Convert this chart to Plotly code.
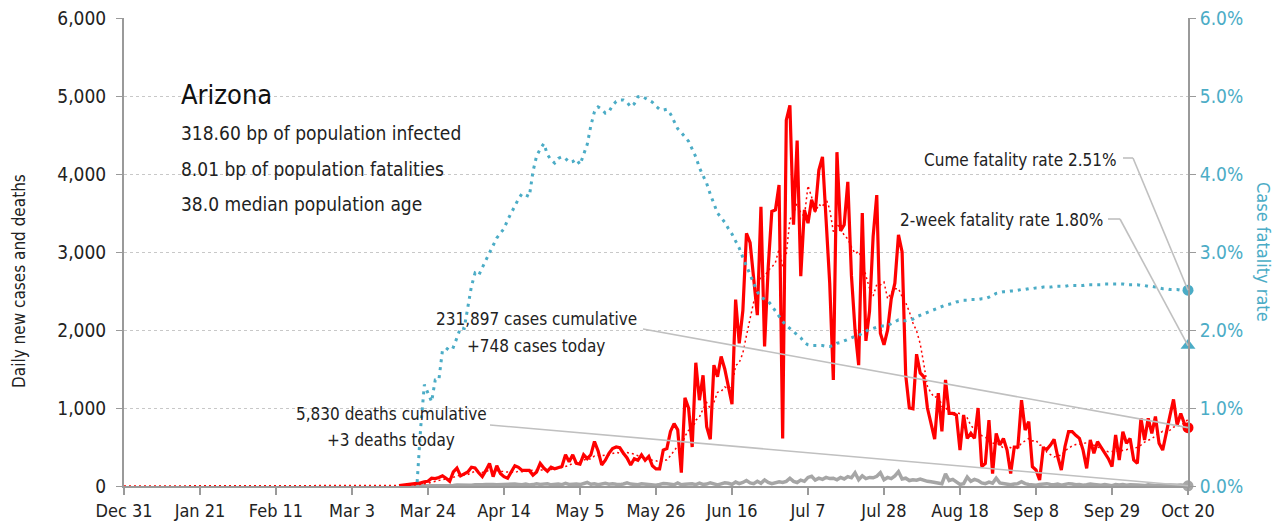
import pandas as pd
import plotly.graph_objects as go

# ---------------- data ----------------
x_start = "2019-12-31"
x_end = "2020-10-20"
tick_dates = ["2019-12-31", "2020-01-21", "2020-02-11", "2020-03-03", "2020-03-24",
              "2020-04-14", "2020-05-05", "2020-05-26", "2020-06-16", "2020-07-07",
              "2020-07-28", "2020-08-18", "2020-09-08", "2020-09-29", "2020-10-20"]
tick_labels = ["Dec 31", "Jan 21", "Feb 11", "Mar 3", "Mar 24", "Apr 14", "May 5", "May 26",
               "Jun 16", "Jul 7", "Jul 28", "Aug 18", "Sep 8", "Sep 29", "Oct 20"]

series_start = "2020-03-16"   # daily values from here to Oct 20
cases = [5, 10, 15, 20, 25, 35, 40, 55,
         60, 100, 95, 110, 130, 100, 60, 180, 230, 130, 150, 180, 240, 230, 170, 120, 200, 290, 120, 260, 160,
         120, 100, 190, 260, 240, 200, 200, 200, 140, 180, 290, 230, 190, 240, 220, 240, 250, 400, 310, 400,
         290, 280, 400, 350, 400, 570, 450, 270, 330, 420, 480, 500, 490, 420, 360, 270, 350, 330, 400, 330,
         380, 260,
         220, 220, 460, 480, 700, 800, 720, 170, 1130, 1000, 500, 1580, 1100, 1420, 760, 600, 1550, 1400, 1660, 1500, 1250,
         1050, 2390, 1830, 2250, 3240, 3120, 2640, 2190, 3580, 1790, 2800, 3520, 3540, 3860, 610, 4690, 4880, 3350, 4430, 2690, 3540,
         3370, 3670, 3520, 4050, 4220, 3410, 2600, 1360, 4280, 3270, 3350, 3900, 2700, 2000, 1550, 3500, 1860, 2240, 3200, 3730, 1960,
         1810, 2000, 2400, 2600, 3220, 3000, 1420, 1000, 990, 1690, 1450, 1400, 1000, 810, 600, 1190, 700, 1360, 930, 930, 910,
         460, 910, 610, 675, 610, 1000, 250, 290, 846, 160, 675, 525, 610, 460, 160, 500, 500, 1100, 718, 825, 248,
         205, 77, 483, 470, 525, 598, 376, 205, 504, 697, 697, 650, 611, 460, 226, 590, 419, 568, 500, 419, 350,
         248, 654, 333, 697, 547, 610, 333, 290, 868, 590, 868, 675, 890, 547, 460, 700, 900, 1110, 782, 930, 800, 748]

deaths = [0, 0, 0, 0, 1, 1, 2, 3,
          3, 5, 4, 6, 8, 6, 10, 7, 12, 9, 11, 14, 10, 15, 12, 16, 20, 14, 18, 17, 20,
          15, 22, 18, 25, 20, 16, 24, 12, 18, 28, 20, 23, 30, 15, 22, 26, 18, 34, 20, 28,
          25, 18, 30, 45, 22, 28, 16, 20, 35, 24, 30, 22, 18, 26, 40, 25, 20, 16, 28, 22, 18, 12,
          10, 20, 32, 28, 24, 16, 40, 15, 22, 30, 28, 18, 36, 20, 25, 42, 30, 14, 28, 40, 35,
          20, 50, 30, 45, 70, 40, 30, 60, 35, 78, 45, 30, 40, 55, 45, 60, 100, 60, 45, 75, 60,
          110, 125, 75, 100, 85, 110, 95, 100, 80, 110, 90, 120, 105, 170, 80, 130, 95, 110, 105, 125, 170,
          80, 110, 95, 130, 184, 90, 100, 70, 80, 75, 90, 70, 60, 55, 50, 40, 30, 156, 70, 85, 50,
          20, 30, 115, 60, 85, 70, 40, 30, 50, 35, 100, 40, 30, 20, 15, 25, 30, 55, 30, 20, 15,
          10, 20, 25, 30, 20, 15, 25, 10, 20, 30, 25, 15, 20, 10, 15, 25, 20, 15, 10, 20, 15,
          5, 18, 12, 20, 10, 15, 8, 12, 10, 5, 15, 10, 8, 12, 6, 10, 14, 8, 10, 12, 5, 3]

cfr_start = "2020-03-21"      # case fatality rate, %, daily
cfr = [0.05, 0.76, 1.30, 1.19, 1.08, 1.36, 1.36, 1.74, 1.74, 1.80, 1.78, 1.90, 2.03, 2.02, 2.30, 2.56,
       2.73, 2.70, 2.80, 2.90, 2.98, 3.08, 3.18, 3.24,
       3.30, 3.41, 3.50, 3.60, 3.68, 3.75, 3.73, 3.71, 4.03, 4.23, 4.32, 4.39, 4.25, 4.18, 4.14, 4.20,
       4.22, 4.20, 4.15, 4.16, 4.19, 4.12, 4.25, 4.38, 4.62, 4.80, 4.86, 4.83, 4.78, 4.80, 4.88, 4.93,
       4.95, 4.95, 4.92, 4.86, 4.90, 4.99, 5.00, 4.97, 4.95, 4.92,
       4.87, 4.83, 4.82, 4.83, 4.77, 4.68, 4.58, 4.53, 4.48, 4.42, 4.32, 4.22, 4.08, 3.97, 3.88, 3.74,
       3.62, 3.50, 3.44, 3.38, 3.30,
       3.23, 3.14, 3.05, 2.93, 2.82, 2.70, 2.58, 2.49, 2.42, 2.40, 2.37, 2.31, 2.24, 2.18, 2.11, 2.06,
       2.02, 1.97, 1.93, 1.90, 1.84,
       1.81, 1.80, 1.80, 1.80, 1.80, 1.79, 1.79, 1.80, 1.83, 1.84, 1.86, 1.89, 1.91, 1.92, 1.93, 1.96,
       1.99, 2.01, 2.02, 2.04, 2.05,
       2.05, 2.06, 2.08, 2.11, 2.13, 2.12, 2.12, 2.13, 2.14, 2.17, 2.19, 2.21, 2.22, 2.24, 2.26, 2.28,
       2.30, 2.32, 2.33, 2.34, 2.36,
       2.37, 2.38, 2.38, 2.39, 2.39, 2.39, 2.40, 2.40, 2.42, 2.45, 2.47, 2.48, 2.49, 2.49, 2.50, 2.50,
       2.51, 2.52, 2.52, 2.53, 2.53,
       2.54, 2.54, 2.55, 2.55, 2.55, 2.56, 2.56, 2.56, 2.56, 2.57, 2.57, 2.57, 2.57, 2.57, 2.58, 2.58,
       2.58, 2.58, 2.58, 2.59, 2.59,
       2.59, 2.59, 2.59, 2.59, 2.58, 2.58, 2.58, 2.58, 2.57, 2.57, 2.56, 2.56, 2.55, 2.54, 2.53, 2.53,
       2.52, 2.52, 2.52, 2.51, 2.51, 2.51]

state = "Arizona"
info_lines = ["318.60 bp of population infected", "8.01 bp of population fatalities",
              "38.0 median population age"]
cases_cum, cases_today = 231897, 748
deaths_cum, deaths_today = 5830, 3
cume_cfr, twoweek_cfr = 2.51, 1.80

# ---------------- build series ----------------
full_idx = pd.date_range(x_start, x_end, freq="D")
s_cases = pd.Series(cases, index=pd.date_range(series_start, periods=len(cases), freq="D"))
s_cases_full = s_cases.reindex(full_idx, fill_value=0)
s_avg = s_cases_full.rolling(7, min_periods=1).mean()
s_deaths = pd.Series(deaths, index=pd.date_range(series_start, periods=len(deaths), freq="D"))
s_cfr = pd.Series(cfr, index=pd.date_range(cfr_start, periods=len(cfr), freq="D"))

RED = "#ff0000"
CYAN = "#4bacc6"
GREY = "#a6a6a6"
AXIS = "#9a9a9a"
LEADER = "#c0c0c0"
FONT = "DejaVu Sans Condensed, Liberation Sans Narrow, sans-serif"

Y1MAX, Y2MAX = 6000, 6
L, R, T, B = 124, 96, 18, 43
W, H = 1284, 529
PW, PH = W - L - R, H - T - B


def px(x):
    return (x - L) / PW


def py(y):
    return (H - B - y) / PH


fig = go.Figure()

fig.add_trace(go.Scatter(x=s_cfr.index, y=s_cfr.values, yaxis="y2", mode="lines",
                         line=dict(color=CYAN, width=3, dash="3px,5px"), hoverinfo="skip"))
fig.add_trace(go.Scatter(x=s_deaths.index, y=s_deaths.values, mode="lines",
                         line=dict(color=GREY, width=3.5), hoverinfo="skip"))
fig.add_trace(go.Scatter(x=s_avg.index, y=s_avg.values, mode="lines",
                         line=dict(color=RED, width=1.5, dash="2px,3px"), hoverinfo="skip"))
fig.add_trace(go.Scatter(x=s_cases.index, y=s_cases.values, mode="lines",
                         line=dict(color=RED, width=3.2), hoverinfo="skip"))

# end markers
end = pd.Timestamp(x_end)
fig.add_trace(go.Scatter(x=[end], y=[cases_today], mode="markers", cliponaxis=False,
                         marker=dict(color=RED, size=11), hoverinfo="skip"))
fig.add_trace(go.Scatter(x=[end], y=[deaths_today], mode="markers", cliponaxis=False,
                         marker=dict(color=GREY, size=11), hoverinfo="skip"))
fig.add_trace(go.Scatter(x=[end], y=[cume_cfr], yaxis="y2", mode="markers", cliponaxis=False,
                         marker=dict(color=CYAN, size=11), hoverinfo="skip"))
fig.add_trace(go.Scatter(x=[end], y=[twoweek_cfr], yaxis="y2", mode="markers", cliponaxis=False,
                         marker=dict(color=CYAN, size=13, symbol="triangle-up"), hoverinfo="skip"))

ann = []
shapes = []


def text(x, y, s, size=20, anchor="left", color="#222222"):
    ann.append(dict(x=px(x), y=py(y), xref="paper", yref="paper", text=s, showarrow=False,
                    xanchor=anchor, yanchor="middle", font=dict(family=FONT, size=size, color=color)))


text(179, 95, state, size=27, color="#111111")
for i, line in enumerate(info_lines):
    text(179, [133, 169, 204][i], line, size=19)

text(536, 319, f"{cases_cum:,} cases cumulative", size=17, anchor="center")
text(536, 346, f"+{cases_today:,} cases today", size=17, anchor="center")
text(391, 414, f"{deaths_cum:,} deaths cumulative", size=17, anchor="center")
text(391, 440, f"+{deaths_today} deaths today", size=17, anchor="center")
text(1119, 160, f"Cume fatality rate {cume_cfr:.2f}%", size=17, anchor="right")
text(1105, 220, f"2-week fatality rate {twoweek_cfr:.2f}%", size=17, anchor="right")

# axis titles
ann.append(dict(x=px(19), y=py(281), xref="paper", yref="paper", text="Daily new cases and deaths",
                xanchor="center", yanchor="middle",
                showarrow=False, textangle=-90, font=dict(family=FONT, size=17, color="#222222")))
ann.append(dict(x=px(1264), y=py(252), xref="paper", yref="paper", text="Case fatality rate",
                xanchor="center", yanchor="middle",
                showarrow=False, textangle=90, font=dict(family=FONT, size=18, color=CYAN)))


def seg(x0, y0, x1, y1):
    shapes.append(dict(type="line", xref="paper", yref="paper", x0=px(x0), y0=py(y0),
                       x1=px(x1), y1=py(y1), line=dict(color=LEADER, width=1.6)))


x_endpx = L + PW
y_cases_end = H - B - cases_today / Y1MAX * PH
y_deaths_end = H - B - deaths_today / Y1MAX * PH
y_cume_end = H - B - cume_cfr / Y2MAX * PH
y_2wk_end = H - B - twoweek_cfr / Y2MAX * PH

seg(643, 329, x_endpx, y_cases_end)
seg(490, 425, x_endpx, y_deaths_end)
seg(1123, 158, 1133, 158)
seg(1133, 158, x_endpx, y_cume_end)
seg(1108, 219, 1120, 219)
seg(1120, 219, x_endpx, y_2wk_end)

fig.update_layout(
    width=W, height=H,
    margin=dict(l=L, r=R, t=T, b=B, autoexpand=False),
    paper_bgcolor="white", plot_bgcolor="white",
    showlegend=False,
    font=dict(family=FONT, size=18, color="#222222"),
    xaxis=dict(range=[x_start, x_end], type="date", tickvals=tick_dates, ticktext=tick_labels,
               automargin=False,
               showgrid=False, zeroline=False, showline=True, linecolor=AXIS, linewidth=2,
               ticks="outside", ticklen=7, tickwidth=2, tickcolor=AXIS,
               tickfont=dict(family=FONT, size=18, color="#222222")),
    yaxis=dict(range=[0, Y1MAX], dtick=1000, tickformat=",", showgrid=True, gridcolor="#c8c8c8",
               automargin=False, ticklabelstandoff=6,
               griddash="dot", gridwidth=1, zeroline=False, showline=True, linecolor=AXIS,
               linewidth=2, ticks="outside", ticklen=6, tickwidth=1, tickcolor=AXIS,
               tickfont=dict(family=FONT, size=19, color="#222222")),
    yaxis2=dict(range=[0, Y2MAX], dtick=1, tickformat=".1f", ticksuffix="%", overlaying="y",
                automargin=False,
                side="right", showgrid=False, zeroline=False, showline=True, linecolor=AXIS,
                linewidth=2, ticks="outside", ticklen=6, tickwidth=1, tickcolor=AXIS,
                tickfont=dict(family=FONT, size=19, color=CYAN)),
    annotations=ann,
    shapes=shapes,
)

fig.write_html("out.html", config={"displayModeBar": False},
               post_script="document.body.style.margin='0';")
